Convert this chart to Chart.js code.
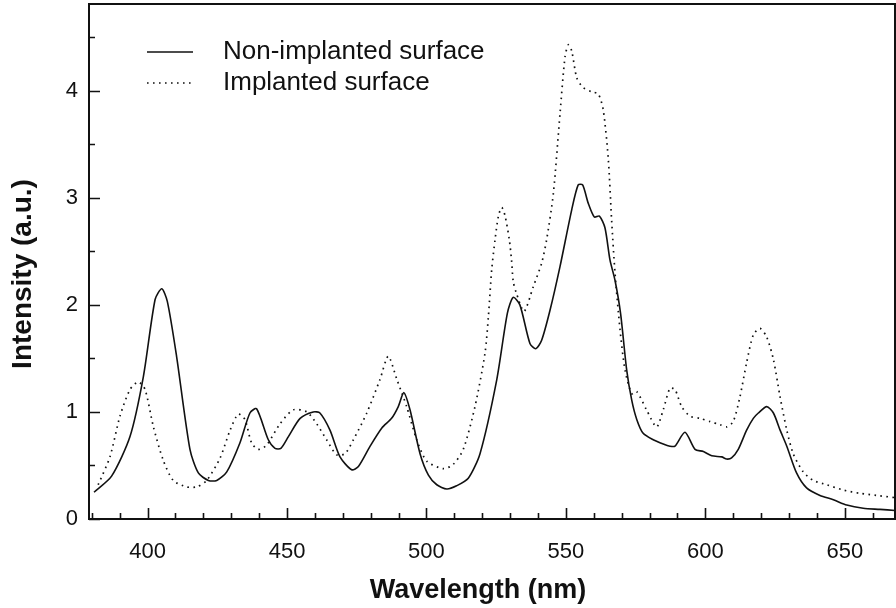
<!DOCTYPE html>
<html>
<head>
<meta charset="utf-8">
<script src="https://cdn.jsdelivr.net/npm/chart.js@4.4.1/dist/chart.umd.min.js"></script>
<style>
 html, body { margin: 0; padding: 0; background: #fff; }
 #wrap { width: 896px; height: 608px; position: relative; }
</style>
</head>
<body>
<div id="wrap"><canvas id="chartCanvas"></canvas></div>
<script>
// wavelength (nm) / intensity (a.u.)
const solidX = [380.8,387.1,393.7,398.5,402.7,405.1,407.1,410.4,415.2,418.2,421.8,424.8,428.4,433.1,436.7,439.1,443.3,445.7,447.8,450.5,454.7,459.4,461.8,465.4,469,473.2,475.6,479.8,484,487.5,489.9,491.9,494.1,497.7,500.7,503.7,507.3,510.8,515,519.2,525.2,529,531.1,533.5,537.1,539.2,541.3,544.3,547.9,552.1,554.4,556,558,560.2,562,564,565.8,567.6,569.6,571.8,573.6,575.4,577.7,581.3,584.9,587.3,589.1,592.7,596.3,599.3,602.3,605.9,607.6,609.4,611.8,614.8,617.2,619,622,624.4,626.8,629.2,632.7,636.3,641.1,645.9,650.7,656.6,662.6,668];
const solidY = [0.25,0.40,0.77,1.33,2.05,2.15,2.03,1.52,0.65,0.43,0.36,0.36,0.44,0.71,0.99,1.03,0.74,0.66,0.66,0.77,0.94,1.0,0.99,0.83,0.58,0.46,0.49,0.68,0.85,0.94,1.05,1.18,1.02,0.61,0.41,0.32,0.28,0.31,0.38,0.61,1.30,1.92,2.07,2.0,1.64,1.59,1.67,1.95,2.36,2.89,3.12,3.12,2.95,2.82,2.83,2.72,2.42,2.23,1.92,1.39,1.11,0.93,0.80,0.74,0.70,0.68,0.68,0.81,0.65,0.63,0.59,0.58,0.56,0.57,0.65,0.83,0.94,0.99,1.05,0.99,0.83,0.68,0.43,0.29,0.22,0.18,0.13,0.10,0.09,0.08];

const implX = [382.3,386.5,390.1,393.7,396.7,399.1,402.1,405.6,409.2,414,417.6,421.2,426,429.6,432.5,434.9,437.3,439.7,442.7,447.5,452.3,457.1,460.6,464.2,467.8,470.8,473.8,478.6,483.3,486.3,489.3,492.9,496.5,500.1,506,509.6,513.2,517.4,521,522.2,523.4,524.6,525.8,527,528.2,529.7,530.5,531.1,532.1,535,538.3,541.3,543.1,545.5,547.9,549.7,550.9,552.1,553.9,556.2,559.2,561.6,563.4,565.2,566.4,567.6,569.4,571.2,573.6,575.4,578.9,582.5,584.9,587.3,589.1,591.5,594.5,598.1,601.7,605.3,607.6,610,612.4,614.8,617.2,619.6,622,624.4,626.8,629.2,631.5,635.1,638.7,643.5,649.5,655.4,661.4,668];
const implY = [0.32,0.58,0.96,1.21,1.28,1.21,0.86,0.55,0.36,0.30,0.30,0.36,0.57,0.83,0.98,0.93,0.71,0.65,0.69,0.89,1.02,1.0,0.89,0.74,0.60,0.61,0.74,0.99,1.30,1.52,1.31,1.05,0.74,0.54,0.47,0.51,0.65,1.05,1.55,1.89,2.33,2.61,2.83,2.91,2.83,2.61,2.42,2.22,2.12,1.94,2.17,2.39,2.61,3.04,3.79,4.32,4.43,4.37,4.12,4.03,3.99,3.97,3.82,3.36,2.79,2.30,1.77,1.39,1.17,1.19,1.02,0.86,1.02,1.22,1.21,1.05,0.96,0.94,0.91,0.88,0.86,0.91,1.14,1.46,1.72,1.78,1.70,1.49,1.14,0.83,0.61,0.44,0.36,0.32,0.27,0.24,0.22,0.20];

const seriesNames = ['Non-implanted surface', 'Implanted surface'];
const xTicks = [400, 450, 500, 550, 600, 650];
const yTicks = [0, 1, 2, 3, 4];
const xMinorStep = 10;
const yMinorStep = 0.5;
const xTitle = 'Wavelength (nm)';
const yTitle = 'Intensity (a.u.)';

const FONT = '"Liberation Sans", Arial, sans-serif';
const INK = '#111';
const DOTS = [1.6, 4.4];

function toPoints(xs, ys) {
  return xs.map((x, i) => ({ x: x, y: ys[i] }));
}

// frame, inward ticks, legend and axis titles
const decor = {
  id: 'decor',
  afterDraw(chart) {
    const ctx = chart.ctx;
    const a = chart.chartArea;
    const xs = chart.scales.x, ys = chart.scales.y;
    ctx.save();
    ctx.strokeStyle = INK;
    ctx.lineWidth = 2;
    ctx.strokeRect(a.left, a.top, a.right - a.left, a.bottom - a.top);

    ctx.lineWidth = 1.6;
    ctx.beginPath();
    for (let v = Math.ceil(xs.min / xMinorStep) * xMinorStep; v <= xs.max; v += xMinorStep) {
      const px = Math.round(xs.getPixelForValue(v)) + 0.5;
      const len = xTicks.includes(v) ? 11 : 6;
      ctx.moveTo(px, a.bottom);
      ctx.lineTo(px, a.bottom - len);
    }
    for (let v = 0; v <= ys.max; v += yMinorStep) {
      const py = Math.round(ys.getPixelForValue(v)) + 0.5;
      const len = yTicks.includes(v) ? 11 : 6;
      ctx.moveTo(a.left, py);
      ctx.lineTo(a.left + len, py);
    }
    ctx.stroke();

    // legend
    ctx.font = '26px ' + FONT;
    ctx.fillStyle = INK;
    ctx.textBaseline = 'middle';
    ctx.textAlign = 'left';
    const rows = [52, 83];
    rows.forEach((y, i) => {
      ctx.beginPath();
      ctx.lineWidth = 1.5;
      ctx.setLineDash(i === 0 ? [] : DOTS);
      ctx.moveTo(147, y);
      ctx.lineTo(193, y);
      ctx.stroke();
      ctx.setLineDash([]);
      ctx.fillText(seriesNames[i], 223, y);
    });

    // axis titles
    ctx.font = 'bold 27px ' + FONT;
    ctx.textAlign = 'center';
    ctx.fillText(xTitle, 478, 591);
    ctx.translate(23, 274);
    ctx.rotate(-Math.PI / 2);
    ctx.font = 'bold 28px ' + FONT;
    ctx.fillText(yTitle, 0, 0);
    ctx.restore();
  }
};

document.addEventListener('DOMContentLoaded', function () {
  const ctx = document.getElementById('chartCanvas').getContext('2d');

  new Chart(ctx, {
    type: 'line',
    data: {
      datasets: [
        {
          label: seriesNames[0],
          data: toPoints(solidX, solidY),
          borderColor: INK,
          borderWidth: 1.6,
          pointRadius: 0,
          tension: 0.25,
          fill: false
        },
        {
          label: seriesNames[1],
          data: toPoints(implX, implY),
          borderColor: INK,
          borderWidth: 1.7,
          borderDash: DOTS,
          pointRadius: 0,
          tension: 0.25,
          fill: false
        }
      ]
    },
    options: {
      responsive: true,
      maintainAspectRatio: false,
      animation: false,
      layout: { padding: { top: 4, right: 1, left: 0, bottom: 0 } },
      plugins: {
        legend: { display: false },
        tooltip: { enabled: false }
      },
      scales: {
        x: {
          type: 'linear',
          min: 379,
          max: 668,
          grid: { display: false, drawTicks: false },
          border: { display: false },
          afterBuildTicks: s => { s.ticks = xTicks.map(v => ({ value: v })); },
          afterFit: s => { s.height = 89; s.paddingLeft = 0; s.paddingRight = 0; },
          ticks: {
            color: INK,
            padding: 20,
            maxRotation: 0,
            font: { family: FONT, size: 22 }
          }
        },
        y: {
          min: 0,
          max: 4.81,
          grid: { display: false, drawTicks: false },
          border: { display: false },
          afterBuildTicks: s => { s.ticks = yTicks.map(v => ({ value: v })); },
          afterFit: s => { s.width = 89; s.paddingTop = 0; s.paddingBottom = 0; },
          ticks: {
            color: INK,
            padding: 11,
            font: { family: FONT, size: 22 }
          }
        }
      }
    },
    plugins: [decor]
  });
});
</script>
</body>
</html>
